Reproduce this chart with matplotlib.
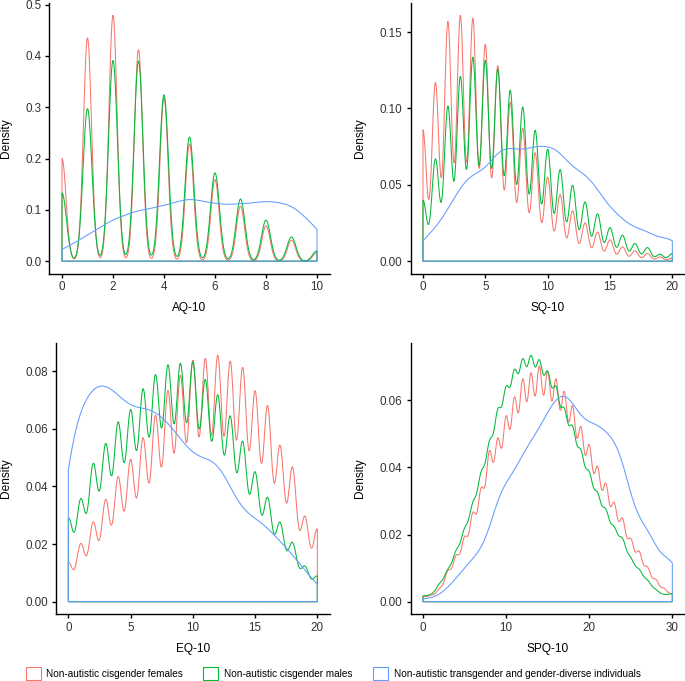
import numpy as np
import matplotlib
matplotlib.use("Agg")
import matplotlib.pyplot as plt
from matplotlib.patches import Patch
from matplotlib.ticker import FormatStrFormatter, MultipleLocator

plt.rcParams['font.family'] = ['Liberation Sans', 'DejaVu Sans']

# ---------------- data: density read at each integer score ----------------
groups = ["Non-autistic cisgender females",
          "Non-autistic cisgender males",
          "Non-autistic transgender and gender-diverse individuals"]
colors = ["#F8766D", "#00BA38", "#619CFF"]

aq_scores = list(range(0, 11))
aq_f = [0.200, 0.435, 0.479, 0.412, 0.318, 0.228, 0.159, 0.107, 0.069, 0.041, 0.017]
aq_m = [0.133, 0.297, 0.391, 0.390, 0.324, 0.242, 0.172, 0.121, 0.080, 0.047, 0.020]
aq_t = [0.023, 0.051, 0.080, 0.098, 0.109, 0.120, 0.113, 0.112, 0.116, 0.106, 0.062]
aq_bw = [0.16, 0.175, 0.6]

sq_scores = list(range(0, 21))
sq_f = [0.086, 0.117, 0.157, 0.161, 0.159, 0.142, 0.128, 0.104, 0.087, 0.071, 0.055,
        0.0436, 0.033, 0.025, 0.019, 0.014, 0.0094, 0.0068, 0.005, 0.0028, 0.002]
sq_m = [0.040, 0.067, 0.1016, 0.121, 0.1336, 0.1315, 0.1256, 0.112, 0.101, 0.0857, 0.0733,
        0.060, 0.0497, 0.0388, 0.031, 0.022, 0.017, 0.0116, 0.0089, 0.0046, 0.005]
sq_t = [0.0133, 0.0225, 0.0344, 0.0475, 0.0562, 0.0617, 0.0704, 0.0737, 0.0735, 0.0748, 0.0748,
        0.0704, 0.0624, 0.0562, 0.0469, 0.036, 0.0279, 0.0225, 0.0192, 0.0159, 0.0133]
sq_bw = [0.28, 0.295, 0.9]

eq_scores = list(range(0, 21))
eq_f = [0.0136, 0.0202, 0.0277, 0.0355, 0.0434, 0.0494, 0.0569, 0.0647, 0.0732, 0.0786, 0.0838,
        0.0844, 0.0855, 0.0835, 0.0813, 0.0732, 0.0681, 0.0543, 0.0468, 0.0297, 0.0252]
eq_m = [0.0289, 0.0358, 0.048, 0.0549, 0.0624, 0.0667, 0.0739, 0.0788, 0.0822, 0.0827, 0.0832,
        0.0771, 0.0718, 0.0645, 0.0557, 0.0451, 0.0362, 0.0276, 0.0206, 0.0124, 0.0089]
eq_t = [0.0457, 0.0655, 0.0734, 0.0746, 0.0717, 0.0684, 0.0671, 0.0655, 0.0618, 0.0566, 0.052,
        0.0497, 0.0468, 0.0399, 0.0329, 0.0289, 0.0254, 0.021, 0.0162, 0.011, 0.006]
eq_bw = [0.345, 0.365, 0.9]

spq_scores = list(range(0, 31))
spq_f = [0.0015, 0.002, 0.004, 0.0093, 0.0139, 0.0194, 0.0266, 0.034, 0.045, 0.0488, 0.0554,
         0.061, 0.0664, 0.0682, 0.0702, 0.0687, 0.0664, 0.0627, 0.0584, 0.0522, 0.0468,
         0.0403, 0.0353, 0.0296, 0.0249, 0.0189, 0.0151, 0.0104, 0.0067, 0.004, 0.0023]
spq_m = [0.0017, 0.0023, 0.0055, 0.0097, 0.0154, 0.0219, 0.0297, 0.0388, 0.048, 0.0574, 0.0642,
         0.0692, 0.0724, 0.0734, 0.0721, 0.0687, 0.0642, 0.0577, 0.0524, 0.0453, 0.0388,
         0.0326, 0.0276, 0.0224, 0.0189, 0.0132, 0.0097, 0.0065, 0.0037, 0.0022, 0.0023]
spq_t = [0.0008, 0.0013, 0.0023, 0.0045, 0.007, 0.010, 0.0129, 0.0164, 0.0224, 0.0299, 0.0353,
         0.0393, 0.0438, 0.0478, 0.052, 0.0564, 0.0599, 0.0612, 0.059, 0.0557, 0.0537,
         0.0524, 0.0507, 0.0473, 0.0413, 0.0323, 0.0259, 0.0209, 0.0174, 0.0134, 0.0116]
spq_bw = [0.42, 0.48, 1.2]

panels = [
    ("AQ-10", aq_scores, [aq_f, aq_m, aq_t], aq_bw, 2, 0.1, "%.1f"),
    ("SQ-10", sq_scores, [sq_f, sq_m, sq_t], sq_bw, 5, 0.05, "%.2f"),
    ("EQ-10", eq_scores, [eq_f, eq_m, eq_t], eq_bw, 5, 0.02, "%.2f"),
    ("SPQ-10", spq_scores, [spq_f, spq_m, spq_t], spq_bw, 10, 0.02, "%.2f"),
]

# pixel boxes (x0, y0_top, x1, y1_bottom)
W, H = 685, 681
boxes = [(49.25, 3, 329.75, 273.5), (410.5, 3, 684.8, 273.5),
         (55.9, 343, 329.8, 614), (410.5, 343, 684.8, 614)]
title_pos = [(189.5, 308), (547.6, 308), (192.8, 649), (547.6, 649)]
ylab_x = [6, 360, 6, 360]


def fit_weights(s, d, bw, iters=800):
    s = np.asarray(s, float)
    d = np.asarray(d, float)
    K = np.exp(-0.5 * ((s[:, None] - s[None, :]) / bw) ** 2)
    w = d.copy()
    norm = K.sum(axis=0)
    for _ in range(iters):
        w *= (K.T @ (d / (K @ w))) / norm
    return w


def kde(s, w, bw, x):
    s = np.asarray(s, float)
    return (w[None, :] * np.exp(-0.5 * ((x[:, None] - s[None, :]) / bw) ** 2)).sum(axis=1)


fig = plt.figure(figsize=(W / 100, H / 100), dpi=100)
tick_col = "#333333"
for (name, scores, series, bws, xstep, ystep, fmt), (x0, y0, x1, y1), tp, lx in zip(
        panels, boxes, title_pos, ylab_x):
    ax = fig.add_axes([x0 / W, 1 - y1 / H, (x1 - x0) / W, (y1 - y0) / H])
    lo, hi = min(scores), max(scores)
    xs = np.linspace(lo, hi, 1200)
    ymax = 0
    for dens, bw, c in zip(series, bws, colors):
        w = fit_weights(scores, dens, bw)
        ys = kde(scores, w, bw, xs)
        ymax = max(ymax, ys.max())
        px = np.concatenate([[lo], xs, [hi]])
        py = np.concatenate([[0], ys, [0]])
        ax.fill(px, py, facecolor="none", edgecolor=c, linewidth=0.75)
    rng = hi - lo
    ax.set_xlim(lo - 0.05 * rng, hi + 0.05 * rng)
    ax.set_ylim(-0.05 * ymax, 1.05 * ymax)
    ax.xaxis.set_major_locator(MultipleLocator(xstep))
    ax.yaxis.set_major_locator(MultipleLocator(ystep))
    ax.yaxis.set_major_formatter(FormatStrFormatter(fmt))
    for sp in ["top", "right"]:
        ax.spines[sp].set_visible(False)
    for sp in ["left", "bottom"]:
        ax.spines[sp].set_linewidth(1.0)
        ax.spines[sp].set_color("black")
    ax.tick_params(axis="both", length=2.7, width=1.0, color="black",
                   labelsize=8.4, labelcolor=tick_col, pad=3.0)
    ax.patch.set_alpha(0)
    fig.text(tp[0] / W, 1 - tp[1] / H, name, ha="center", va="center", fontsize=8.6)
    fig.text(lx / W, 1 - ((y0 + y1) / 2) / H, "Density", rotation=90,
             ha="center", va="center", fontsize=8.6)

handles = [Patch(facecolor="white", edgecolor=c, linewidth=0.8) for c in colors]
fig.legend(handles, groups, loc="center", bbox_to_anchor=(333 / W, 1 - 673.5 / H),
           ncol=3, frameon=False, fontsize=7.2, handlelength=1.5, handleheight=1.5,
           handletextpad=0.6, columnspacing=2.0, borderaxespad=0, borderpad=0)

fig.savefig("out.png", dpi=100)
